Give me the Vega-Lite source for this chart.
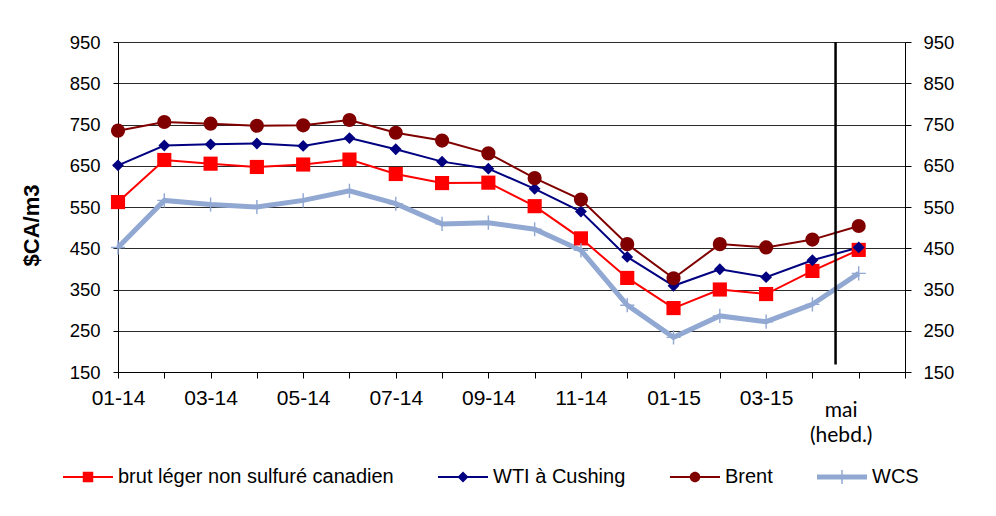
{
  "$schema": "https://vega.github.io/schema/vega-lite/v6.json",
  "width": 787,
  "height": 330,
  "autosize": "none",
  "padding": {"left": 118, "top": 42, "right": 91, "bottom": 144},
  "background": "white",
  "config": {
    "view": {"stroke": null},
    "font": "Liberation Sans"
  },
  "data": {
    "values": [
      {"idx": 0, "mois": "01-14", "brut léger non sulfuré canadien": 562, "WTI à Cushing": 651, "Brent": 735, "WCS": 452},
      {"idx": 1, "mois": "02-14", "brut léger non sulfuré canadien": 664, "WTI à Cushing": 699, "Brent": 756, "WCS": 566},
      {"idx": 2, "mois": "03-14", "brut léger non sulfuré canadien": 655, "WTI à Cushing": 702, "Brent": 752, "WCS": 556},
      {"idx": 3, "mois": "04-14", "brut léger non sulfuré canadien": 647, "WTI à Cushing": 704, "Brent": 747, "WCS": 550},
      {"idx": 4, "mois": "05-14", "brut léger non sulfuré canadien": 653, "WTI à Cushing": 698, "Brent": 748, "WCS": 566},
      {"idx": 5, "mois": "06-14", "brut léger non sulfuré canadien": 665, "WTI à Cushing": 717, "Brent": 761, "WCS": 589},
      {"idx": 6, "mois": "07-14", "brut léger non sulfuré canadien": 630, "WTI à Cushing": 690, "Brent": 730, "WCS": 558},
      {"idx": 7, "mois": "08-14", "brut léger non sulfuré canadien": 608, "WTI à Cushing": 660, "Brent": 711, "WCS": 509},
      {"idx": 8, "mois": "09-14", "brut léger non sulfuré canadien": 609, "WTI à Cushing": 643, "Brent": 680, "WCS": 512},
      {"idx": 9, "mois": "10-14", "brut léger non sulfuré canadien": 552, "WTI à Cushing": 594, "Brent": 620, "WCS": 496},
      {"idx": 10, "mois": "11-14", "brut léger non sulfuré canadien": 474, "WTI à Cushing": 539, "Brent": 568, "WCS": 445},
      {"idx": 11, "mois": "12-14", "brut léger non sulfuré canadien": 378, "WTI à Cushing": 429, "Brent": 460, "WCS": 312},
      {"idx": 12, "mois": "01-15", "brut léger non sulfuré canadien": 305, "WTI à Cushing": 359, "Brent": 377, "WCS": 234},
      {"idx": 13, "mois": "02-15", "brut léger non sulfuré canadien": 350, "WTI à Cushing": 399, "Brent": 460, "WCS": 286},
      {"idx": 14, "mois": "03-15", "brut léger non sulfuré canadien": 339, "WTI à Cushing": 380, "Brent": 452, "WCS": 272},
      {"idx": 15, "mois": "04-15", "brut léger non sulfuré canadien": 395, "WTI à Cushing": 421, "Brent": 471, "WCS": 314},
      {"idx": 16, "mois": "mai (hebd.)", "brut léger non sulfuré canadien": 446, "WTI à Cushing": 452, "Brent": 504, "WCS": 389}
    ]
  },
  "transform": [
    {"fold": ["brut léger non sulfuré canadien", "WTI à Cushing", "Brent", "WCS"], "as": ["serie", "prix"]}
  ],
  "resolve": {"scale": {"y": "independent"}, "axis": {"y": "independent"}},
  "layer": [
    {
      "mark": {"type": "line", "clip": false},
      "encoding": {
        "x": {
          "field": "idx", "type": "quantitative",
          "scale": {"domain": [0, 17], "nice": false, "zero": false},
          "axis": {
            "title": null,
            "values": [0,1,2,3,4,5,6,7,8,9,10,11,12,13,14,15,16,17],
            "grid": false,
            "domainColor": "black",
            "tickColor": "black",
            "tickSize": 6,
            "labelFont": {"condition": {"test": "datum.value === 16", "value": "Lato"}, "value": "Liberation Sans"},
            "labelFontSize": {"condition": {"test": "datum.value === 16", "value": 21}, "value": 21},
            "labelPadding": {"condition": {"test": "datum.value === 16", "value": 21}, "value": 9},
            "labelOffset": {"condition": {"test": "datum.value === 16", "value": -18}, "value": 0},
            "labelColor": "black",
            "labelLineHeight": 25,
            "labelFlush": false,
            "labelOverlap": false,
            "labelBound": false,
            "labelExpr": "datum.value === 16 ? ['mai', '(hebd.)'] : (datum.value % 2 === 0 && datum.value < 16 ? ((datum.value % 12) < 9 ? '0' : '') + ((datum.value % 12) + 1) + '-' + (14 + floor(datum.value / 12)) : '')"
          }
        },
        "y": {
          "field": "prix", "type": "quantitative",
          "scale": {"domain": [150, 950], "nice": false, "zero": false},
          "axis": {
            "title": "$CA/m3",
            "orient": "left",
            "values": [150, 250, 350, 450, 550, 650, 750, 850, 950],
            "grid": true,
            "gridColor": "#2a2a2a",
            "gridWidth": 1,
            "domainColor": "black",
            "tickColor": "black",
            "tickSize": 5,
            "labelPadding": 13,
            "labelFontSize": 18.5,
            "labelColor": "black",
            "titleFontSize": 22,
            "titleFontWeight": "bold",
            "titleColor": "black",
            "titleX": -87,
            "titleY": 183,
            "titleAngle": -90,
            "titleAlign": "center",
            "titleBaseline": "middle"
          }
        },
        "color": {
          "field": "serie", "type": "nominal",
          "scale": {
            "domain": ["brut léger non sulfuré canadien", "WTI à Cushing", "Brent", "WCS"],
            "range": ["#ff0000", "#000080", "#800000", "#91a8d2"]
          },
          "legend": {
            "title": null,
            "orient": "none",
            "legendX": -55,
            "legendY": 410,
            "direction": "horizontal",
            "columns": 4,
            "columnPadding": 44,
            "padding": 0,
            "symbolSize": 2500,
            "symbolOpacity": 1,
            "labelOffset": 5,
            "labelFontSize": 20,
            "labelColor": "black",
            "labelLimit": 400,
            "encode": {
              "symbols": {
                "update": {
                  "shape": {"signal": "datum.value === 'WCS' ? 'M-1,-0.1H1V0.1H-1Z M-0.03,-0.28H0.03V0.28H-0.03Z' : datum.value === 'Brent' ? 'M-1,-0.04H1V0.04H-1Z M-0.21,0A0.21,0.21,0,1,1,0.21,0A0.21,0.21,0,1,1,-0.21,0Z' : datum.value === 'WTI à Cushing' ? 'M-1,-0.04H1V0.04H-1Z M-0.22,0L0,-0.22L0.22,0L0,0.22Z' : 'M-1,-0.04H1V0.04H-1Z M-0.21,-0.21H0.21V0.21H-0.21Z'"},
                  "fill": {"signal": "scale('color', datum.value)"},
                  "stroke": {"value": "transparent"},
                  "strokeWidth": {"value": 0},
                  "opacity": {"value": 1}
                }
              }
            }
          }
        },
        "strokeWidth": {"condition": {"test": "datum.serie === 'WCS'", "value": 5}, "value": 2}
      }
    },
    {
      "mark": {"type": "point", "filled": true, "opacity": 1, "strokeWidth": 0, "clip": false},
      "encoding": {
        "x": {"field": "idx", "type": "quantitative", "scale": {"domain": [0, 17], "nice": false, "zero": false}},
        "y": {
          "field": "prix", "type": "quantitative",
          "scale": {"domain": [150, 950], "nice": false, "zero": false},
          "axis": {
            "title": null,
            "orient": "right",
            "values": [150, 250, 350, 450, 550, 650, 750, 850, 950],
            "grid": false,
            "domainColor": "black",
            "tickColor": "black",
            "tickSize": 6,
            "labelPadding": 12,
            "labelFontSize": 18.5,
            "labelColor": "black"
          }
        },
        "color": {"field": "serie", "type": "nominal"},
        "shape": {
          "condition": [
            {"test": "datum.serie === 'brut léger non sulfuré canadien'", "value": "square"},
            {"test": "datum.serie === 'WTI à Cushing'", "value": "diamond"},
            {"test": "datum.serie === 'Brent'", "value": "circle"}
          ],
          "value": "M-1,-0.1H1V0.1H-1Z M-0.1,-1H0.1V1H-0.1Z"
        },
        "size": {"condition": {"test": "datum.serie === 'WTI à Cushing'", "value": 140}, "value": 200}
      }
    },
    {
      "data": {"values": [{}]},
      "mark": {"type": "rule", "color": "black", "strokeWidth": 2.5},
      "encoding": {
        "x": {"datum": 15.5, "type": "quantitative", "scale": {"domain": [0, 17], "nice": false, "zero": false}},
        "y": {"datum": 950, "type": "quantitative", "scale": {"domain": [150, 950], "nice": false, "zero": false}, "axis": null},
        "y2": {"datum": 168}
      }
    }
  ]
}
